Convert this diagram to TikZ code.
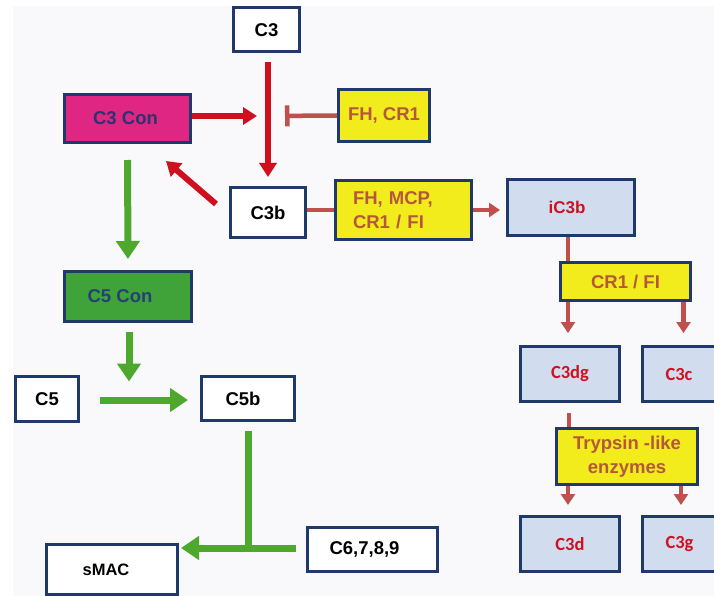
\documentclass[tikz,border=0pt]{standalone}
\usepackage{fontspec}
\setmainfont{Liberation Sans}
\newfontfamily\calfont{Carlito}
\usetikzlibrary{arrows.meta}
\definecolor{bordc}{HTML}{1F3A6A}
\definecolor{redc}{HTML}{D0101E}
\definecolor{brownc}{HTML}{C0504D}
\definecolor{greenc}{HTML}{4FA82E}
\definecolor{yelc}{HTML}{F2EC1C}
\definecolor{yeltext}{HTML}{B5583A}
\definecolor{magc}{HTML}{DE2682}
\definecolor{gfill}{HTML}{3FA33A}
\definecolor{bluefill}{HTML}{D2DCEF}
\definecolor{navyt}{HTML}{2E3270}
\definecolor{navyg}{HTML}{263F78}
\definecolor{bgc}{HTML}{F9F9FB}
\tikzset{
  box/.style={draw=bordc, line width=3pt, fill=white, inner sep=0pt,
    font=\fontsize{18.5}{23.5}\selectfont\bfseries, text=black},
  yelbox/.style={box, fill=yelc, text=yeltext},
  bluebox/.style={box, fill=bluefill, text=redc, font=\fontsize{18.5}{22}\selectfont\calfont\bfseries},
  redarrow/.style={draw=redc, line width=6pt, -{Triangle[length=14pt,width=17pt]}},
  greenarrow/.style={draw=greenc, line width=7pt, -{Triangle[length=18pt,width=23pt]}},
  greenline/.style={draw=greenc, line width=7pt},
  brownarrow/.style={draw=brownc, line width=4.5pt, -{Triangle[length=11pt,width=14pt]}},
  brownline/.style={draw=brownc, line width=4.5pt},
  inhib/.style={draw=brownc, line width=4.5pt, -{Bar[width=21pt,line width=4.5pt]}}
}
\begin{document}
\begin{tikzpicture}[x=1pt,y=-1pt]
\useasboundingbox (0,0) rectangle (714,596);
\clip (0,0) rectangle (714,596);
\fill[white] (0,0) rectangle (714,596);
\fill[bgc] (13,6) rectangle (714,596);

% nodes
\node[box, minimum width=66pt, minimum height=44pt] (C3) at (266.5,30) {C3};
\node[box, fill=magc, text=navyt, minimum width=126pt, minimum height=48pt] (C3Con) at (127.5,118.5) {C3 Con\hspace*{4pt}};
\node[box, minimum width=75pt, minimum height=50pt] (C3b) at (268,212.5) {C3b};
\node[yelbox, minimum width=91pt, minimum height=52pt] (FHCR) at (384,115.5) {FH, CR1};
\node[yelbox, minimum width=136pt, minimum height=59pt, text width=101pt, align=left] (FHMCP) at (403.5,210) {FH, MCP,\\CR1 / FI};
\node[box, fill=bluefill, text=redc, font=\fontsize{17}{22}\selectfont\bfseries, minimum width=127pt, minimum height=56pt] (iC3b) at (571,207.5) {iC3b\hspace*{8pt}};
\node[yelbox, minimum width=130pt, minimum height=38pt] (CRFI) at (625.5,281.5) {CR1 / FI};
\node[bluebox, minimum width=99pt, minimum height=55pt] (C3dg) at (570,374) {C3dg};
\node[bluebox, minimum width=86pt, minimum height=55pt, text width=70pt, align=left] (C3c) at (685.5,374) {\hspace*{15pt}C3c};
\node[yelbox, minimum width=141pt, minimum height=56pt, align=center] (Tryp) at (627,456.5) {Trypsin -like\\enzymes};
\node[bluebox, minimum width=99pt, minimum height=55pt] (C3d) at (570,544) {C3d};
\node[bluebox, minimum width=86pt, minimum height=55pt, text width=70pt, align=left] (C3g) at (685.5,544) {\hspace*{15pt}C3g};
\node[box, fill=gfill, text=navyg, minimum width=127pt, minimum height=50pt] (C5Con) at (128,296.5) {C5 Con\hspace*{16pt}};
\node[box, minimum width=63pt, minimum height=45pt] (C5) at (47,399) {C5};
\node[box, minimum width=93pt, minimum height=44pt] (C5b) at (248,398.5) {C5b\hspace*{10pt}};
\node[box, minimum width=130pt, minimum height=44pt] (C6) at (372.5,549.5) {C6,7,8,9\hspace*{16pt}};
\node[box, minimum width=131pt, minimum height=50pt, font=\fontsize{16.5}{20}\selectfont\bfseries] (sMAC) at (112,569.5) {sMAC\hspace*{12pt}};

% junction coordinates
\coordinate (J) at (268,116);
\coordinate (d1) at (216,204);
\coordinate (d2) at (166,161);
\coordinate (J2) at (C5Con |- C5b);
\coordinate (K) at (C5b |- C6);

% red arrows
\draw[redarrow, shorten <=9pt, shorten >=9pt] (C3b |- C3.south) -- (C3b.north);
\draw[redarrow, shorten >=11pt] (C3Con.east |- J) -- (J);
\draw[redarrow] (d1) -- (d2);
\draw[inhib, shorten >=17pt] (FHCR.west) -- (J);

% brown
\draw[brownline] (C3b.east |- FHMCP.west) -- (FHMCP.west);
\draw[brownarrow, shorten >=6pt] (FHMCP.east) -- (iC3b.west |- FHMCP.east);
\draw[brownline] ([xshift=-3pt]iC3b.south) -- ([xshift=-3pt]iC3b.south |- CRFI.north);
\draw[brownarrow, shorten >=12pt] ([xshift=-2pt]CRFI.south -| C3dg) -- ([xshift=-2pt]C3dg.north);
\draw[brownarrow, shorten >=12pt] ([xshift=-2pt]CRFI.south -| C3c) -- ([xshift=-2pt]C3c.north);
\draw[brownline, shorten <=10pt] ([xshift=-1pt]C3dg.south) -- ([xshift=-1pt]Tryp.north -| C3dg);
\draw[brownarrow, shorten >=10pt] ([xshift=-2pt]Tryp.south -| C3d) -- ([xshift=-2pt]C3d.north);
\draw[brownarrow, shorten >=10pt] ([xshift=-4.5pt]Tryp.south -| C3g) -- ([xshift=-4.5pt]C3g.north);

% green
\draw[greenarrow, shorten <=16pt, shorten >=11pt] (C3Con.south) -- (C5Con.north);
\draw[greenarrow, shorten <=9pt, shorten >=17pt] ([xshift=1pt]C5Con.south) -- ([xshift=1pt]J2);
\draw[greenarrow, shorten <=20pt, shorten >=12pt] ([yshift=-1pt]C5.east) -- ([yshift=-1pt]C5b.west |- C5.east);
\draw[greenline, shorten <=9pt] (C5b.south) -- ([yshift=1.5pt]K);
\draw[greenarrow, shorten <=10pt, shorten >=2pt] ([yshift=1.5pt]C6.west) -- ([yshift=1.5pt]sMAC.east |- C6.west);
\end{tikzpicture}
\end{document}
